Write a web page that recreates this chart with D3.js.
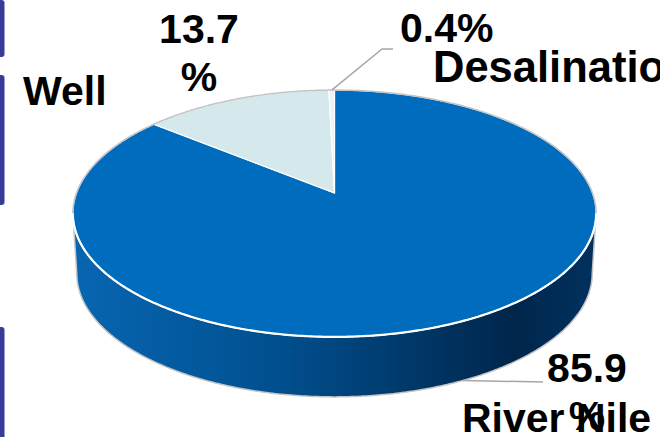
<!DOCTYPE html>
<html>
<head>
<meta charset="utf-8">
<script src="https://cdn.jsdelivr.net/npm/d3@7"></script>
<style>
  html, body { margin: 0; padding: 0; background: #ffffff; }
  svg { display: block; }
</style>
</head>
<body>
<div id="chart"></div>
<script>
// data
var categories = ["River Nile", "Well", "Desalination"];
var values = [85.9, 13.7, 0.4];
var sliceColors = ["#006cbe", "#d5e8ec", "#eaf3f6"];

var W = 666, H = 437;
var text_font = "'Liberation Sans', Arial, sans-serif";

// 3d pie geometry (simple perspective on the top disc)
var cx = 334.5, cy = 193, A = 258, B = 120, k = 0.166, depth = 60, bottomScale = 0.985;

function proj(t) {
    var u = Math.sin(t), v = -Math.cos(t);
    var d = 1 - k * v;
    return [cx + A * u / d, cy + B * v / d];
}
function projBottom(t) {
    var p = proj(t);
    return [cx + (p[0] - cx) * bottomScale, p[1] + depth];
}
function rim(a0, a1, fn) {
    var n = Math.max(2, Math.ceil(Math.abs(a1 - a0) / 0.01));
    var pts = [];
    for (var i = 0; i <= n; i++) pts.push(fn(a0 + (a1 - a0) * i / n));
    return pts;
}
var line = d3.line();

var svg = d3.select("#chart").append("svg")
    .attr("width", W)
    .attr("height", H);

var defs = svg.append("defs");
var grad = defs.append("linearGradient")
    .attr("id", "sideGrad")
    .attr("gradientUnits", "userSpaceOnUse")
    .attr("x1", cx - A * 1.02).attr("x2", cx + A * 1.02)
    .attr("y1", 0).attr("y2", 0);
grad.append("stop").attr("offset", "0%").attr("stop-color", "#0866b2");
grad.append("stop").attr("offset", "40%").attr("stop-color", "#004f8e");
grad.append("stop").attr("offset", "84%").attr("stop-color", "#00264b");
grad.append("stop").attr("offset", "100%").attr("stop-color", "#003260");

defs.append("clipPath").attr("id", "labelClip")
    .append("rect").attr("x", 0).attr("y", 0).attr("width", 660).attr("height", H);

// slide decoration bars on the left
var bars = [[0, 57], [75, 205], [327, 440]];
svg.append("g").selectAll("rect")
    .data(bars)
    .enter()
    .append("rect")
    .attr("x", -4)
    .attr("y", function(d) { return d[0]; })
    .attr("width", 8.5)
    .attr("height", function(d) { return d[1] - d[0]; })
    .attr("rx", 3)
    .attr("fill", "#3a3b98");

var pie = d3.pie().sort(null).value(function(d) { return d; });
var arcs = pie(values);

// silhouette angles of the side wall
var tL = Math.PI / 2 + Math.asin(k), tR = 3 * Math.PI / 2 - Math.asin(k);

// side wall
var gSide = svg.append("g");
arcs.forEach(function(a, i) {
    var s = Math.max(a.startAngle, tL), e = Math.min(a.endAngle, tR);
    if (e <= s) return;
    var pts = rim(s, e, proj).concat(rim(e, s, projBottom));
    gSide.append("path")
        .attr("d", line(pts) + "Z")
        .attr("fill", i == 0 ? "url(#sideGrad)" : sliceColors[i])
        .attr("stroke", "#c4c4c4")
        .attr("stroke-width", 1.5)
        .attr("stroke-linejoin", "round");
});

// top faces
var gTop = svg.append("g");
arcs.forEach(function(a, i) {
    var pts = [[cx, cy]].concat(rim(a.startAngle, a.endAngle, proj));
    gTop.append("path")
        .attr("d", line(pts) + "Z")
        .attr("fill", sliceColors[i])
        .attr("stroke", "#ffffff")
        .attr("stroke-width", 1.2)
        .attr("stroke-linejoin", "round");
});

// grey outline round the back, white highlight along the front edge
svg.append("path")
    .attr("d", line(rim(tR - 2 * Math.PI, tL, proj)))
    .attr("fill", "none")
    .attr("stroke", "#c4c4c4")
    .attr("stroke-width", 1.5);
svg.append("path")
    .attr("d", line(rim(tL, tR, proj)))
    .attr("fill", "none")
    .attr("stroke", "#ffffff")
    .attr("stroke-width", 2.2);

// labels
var fmt = d3.format(".1f");
var labelLayout = [
    {val: {x: 587, y: 382, anchor: "middle", split: true}, cat: {x: 462, y: 432, size: 41}, lead: [[543, 382]], bottom: true},
    {val: {x: 199, y: 43, anchor: "middle", split: true}, cat: {x: 23, y: 105, size: 41}, lead: null},
    {val: {x: 400, y: 42, anchor: "start", split: false}, cat: {x: 433, y: 82, size: 43.5}, lead: [[382, 49], [393, 49]]}
];

var gLab = svg.append("g")
    .style("font-family", text_font)
    .style("font-weight", "bold")
    .style("font-size", "41px")
    .attr("fill", "#000000");

arcs.forEach(function(a, i) {
    var L = labelLayout[i];
    var mid = (a.startAngle + a.endAngle) / 2;
    if (L.lead) {
        var p0 = L.bottom ? projBottom(mid) : proj(mid);
        svg.insert("path", "g:last-child")
            .attr("d", line([p0].concat(L.lead)))
            .attr("fill", "none")
            .attr("stroke", "#a6a6a6")
            .attr("stroke-width", 1.5)
            .attr("stroke-linejoin", "round");
    }
    gLab.append("g")
        .attr("clip-path", "url(#labelClip)")
        .append("text")
        .attr("x", L.cat.x)
        .attr("y", L.cat.y)
        .style("font-size", L.cat.size + "px")
        .text(categories[i]);
    var txt = fmt(a.data) + "%";
    var lines = L.val.split ? [fmt(a.data), "%"] : [txt];
    lines.forEach(function(s, j) {
        gLab.append("text")
            .attr("x", L.val.x)
            .attr("y", L.val.y + j * 48)
            .attr("text-anchor", L.val.anchor)
            .text(s);
    });
});
</script>
</body>
</html>
